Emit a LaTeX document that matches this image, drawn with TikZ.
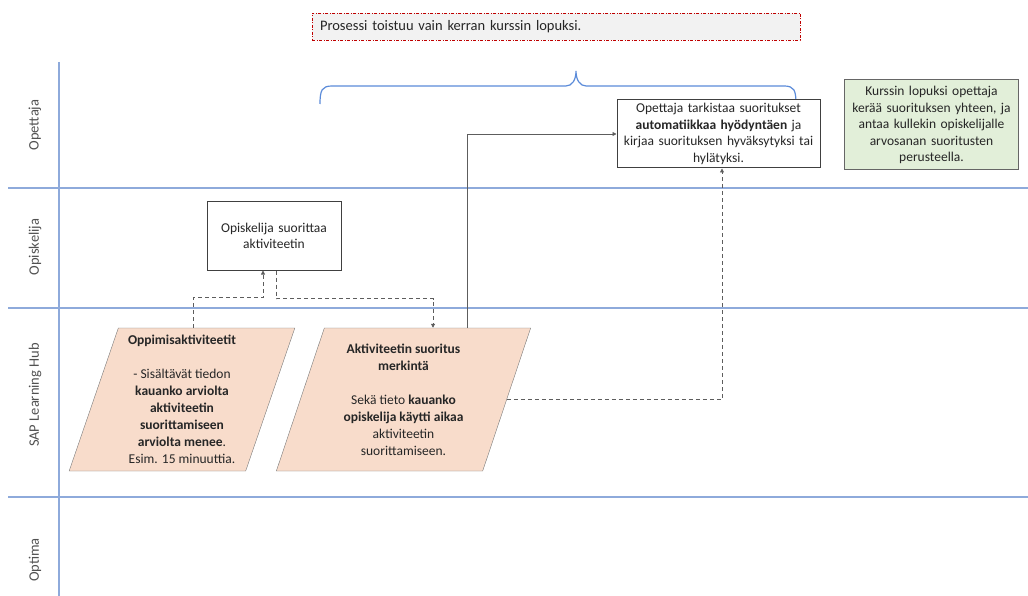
\documentclass[tikz,border=0pt]{standalone}
\usepackage{fontspec}
\setmainfont{Carlito}
\usetikzlibrary{shapes.geometric,arrows.meta}
\definecolor{lanecol}{HTML}{8EAADB}
\definecolor{bracecol}{HTML}{5B8BD9}
\definecolor{peach}{HTML}{F8DCCB}
\definecolor{vihrea}{HTML}{E2EFD9}
\definecolor{teksti}{HTML}{262626}
\definecolor{reuna}{HTML}{404040}
\begin{document}
\begin{tikzpicture}[x=1pt,y=-1pt,font=\fontsize{13.5}{16.5}\selectfont,text=teksti,
    conn/.style={draw=reuna!85,line width=0.8pt,-{Triangle[width=4pt,length=4pt]}},
    dashconn/.style={conn,dash pattern=on 4pt off 3pt}]
  \useasboundingbox (0,0) rectangle (1028,596);

  \begin{scope}[line width=1.5pt,draw=lanecol]
    \draw[lanecol] (59,62) -- (59,596);
    \draw[lanecol] (8,188) -- (1028,188);
    \draw[lanecol] (8,308) -- (1028,308);
    \draw[lanecol] (8,497) -- (1028,497);
  \end{scope}

  \begin{scope}[every node/.style={rotate=90,text=teksti!80,font=\fontsize{14.5}{16}\selectfont}]
    \node (opettajalane)  at (35,125) {Opettaja};
    \node (opiskelijalane) at (35,247) {Opiskelija};
    \node (saplane)       at (35,395) {SAP Learning Hub};
    \node (optimalane)    at (35,560) {Optima};
  \end{scope}

  \node[draw=red!75!black,fill=gray!10,dash pattern=on 3pt off 1.5pt on 1pt off 1.5pt,
        minimum width=488pt,minimum height=27pt,text width=472pt,align=left,
        font=\fontsize{14.5}{16}\selectfont] (huomio) at (556,26.5)
        {Prosessi toistuu vain kerran kurssin lopuksi.};

  \draw[bracecol,line width=1.2pt] (320,104) .. controls (320,90) and (322,86) .. (332,86)
    -- (566,86) .. controls (572,86) and (576,80) .. (576,71)
    .. controls (576,80) and (580,86) .. (586,86) -- (784,86)
    .. controls (794,86) and (796,90) .. (796,104);

  \begin{scope}[every node/.style={draw=reuna,line width=1pt,fill=white,align=center}]
    \node[minimum width=203pt,minimum height=68pt,text width=196pt] (tarkistus) at (718.5,134)
      {Opettaja tarkistaa suoritukset\\\textbf{automatiikkaa hyödyntäen} ja\\kirjaa suorituksen hyväksytyksi tai\\hylätyksi.};
    \node[draw=reuna!80,fill=vihrea,minimum width=173pt,minimum height=90pt,text width=168pt] (arvosana) at (931.5,125)
      {Kurssin lopuksi opettaja\\kerää suorituksen yhteen, ja\\antaa kullekin opiskelijalle\\arvosanan suoritusten\\perusteella.};
    \node[minimum width=134pt,minimum height=68pt,text width=124pt] (suoritus) at (274,236)
      {Opiskelija suorittaa\\aktiviteetin};
  \end{scope}

  \begin{scope}[every node/.style={trapezium,trapezium left angle=72,trapezium right angle=108,
      trapezium stretches,draw=reuna!70,fill=peach,align=center,minimum height=143pt,
      inner sep=1pt,font=\fontsize{13.5}{17}\selectfont}]
    \node[minimum width=226pt] (aktiviteetit) at (182,399.5)
      {\textbf{Oppimisaktiviteetit}\\[17pt]- Sisältävät tiedon\\\textbf{kauanko arviolta}\\\textbf{aktiviteetin}\\\textbf{suorittamiseen}\\\textbf{arviolta menee}.\\Esim. 15 minuuttia.};
    \node[minimum width=255pt] (merkinta) at (403.5,399.5)
      {\textbf{Aktiviteetin suoritus}\\\textbf{merkintä}\\[17pt]Sekä tieto \textbf{kauanko}\\\textbf{opiskelija käytti aikaa}\\aktiviteetin\\suorittamiseen.};
  \end{scope}

  \draw[dashconn] ([xshift=11pt]aktiviteetit.north) -- ++(0,-30) -| ([xshift=-11pt]suoritus.south);
  \draw[dashconn] ([xshift=2pt]suoritus.south) -- ++(0,28) -| ([xshift=29.5pt]merkinta.north);
  \draw[conn] ([xshift=63.5pt]merkinta.north) |- (tarkistus.west);
  \draw[dashconn] (merkinta.east) -| ([xshift=3.5pt]tarkistus.south);

\end{tikzpicture}
\end{document}
